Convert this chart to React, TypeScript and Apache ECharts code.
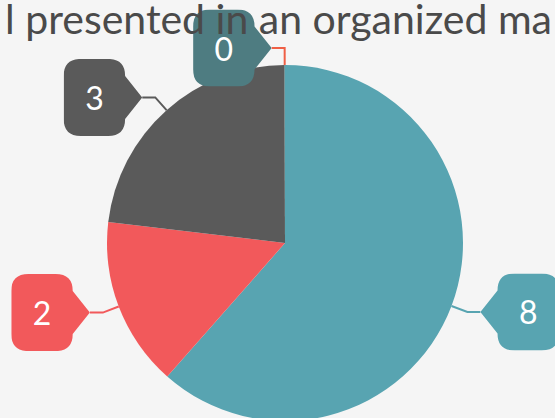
import React, { useEffect, useRef } from "react";
import * as echarts from "echarts";

const titleText = "l presented in an organized ma";
const categories = ["A", "B", "C", "D"];
const values = [8, 2, 3, 0];
const sliceColors = ["#58A4B1", "#F2595B", "#5A5A5A", "#4E7C81"];
const lineColors = ["#58A4B1", "#F2595B", "#5A5A5A", "#EF5F45"];

function bubble(color: string, arrowRight: boolean): string {
  const d = arrowRight
    ? "M17,0 H44 Q61,0 61,17 L78,38.5 L61,60 Q61,77 44,77 H17 Q0,77 0,60 V17 Q0,0 17,0 Z"
    : "M34,0 H61 Q78,0 78,17 V60 Q78,77 61,77 H34 Q17,77 17,60 L0,38.5 L17,17 Q17,0 34,0 Z";
  const svg = `<svg xmlns="http://www.w3.org/2000/svg" width="78" height="77" viewBox="0 0 78 77" preserveAspectRatio="none"><path d="${d}" fill="${color}"/></svg>`;
  return "data:image/svg+xml;charset=utf-8," + encodeURIComponent(svg);
}

export default function App() {
  const ref = useRef<HTMLDivElement>(null);
  useEffect(() => {
    document.body.style.margin = "0";
    const chart = echarts.init(ref.current!, null, { renderer: "svg" });
    const data = values.map((v, i) => {
      const arrowRight = i !== 0;
      return {
        name: categories[i],
        value: v,
        itemStyle: { color: sliceColors[i] },
        labelLine: { lineStyle: { color: lineColors[i], width: 2 } },
        label: {
          backgroundColor: { image: bubble(sliceColors[i], arrowRight) },
          padding: arrowRight ? [22.5, 38.5, 22.5, 21.5] : [22.5, 21.5, 22.5, 38.5],
        },
      };
    });
    chart.setOption({
      animation: false,
      backgroundColor: "#F5F5F5",
      title: {
        text: titleText,
        left: 0,
        top: -7,
        textStyle: {
          fontFamily: "Lato",
          fontSize: 41,
          fontWeight: "normal",
          color: "#4A4A4A",
        },
      },
      series: [
        {
          type: "pie",
          center: [285, 243],
          radius: 178,
          startAngle: 90,
          clockwise: true,
          minAngle: 0.2,
          avoidLabelOverlap: false,
          labelLayout: { hideOverlap: false },
          data,
          label: {
            show: true,
            formatter: "{c}",
            color: "#FFFFFF",
            fontFamily: "Lato",
            fontSize: 32,
            lineHeight: 32,
            distanceToLabelLine: 0,
          },
          labelLine: {
            show: true,
            length: 17,
            length2: 13,
            smooth: false,
          },
          emphasis: { disabled: true },
        },
      ],
    });
    return () => chart.dispose();
  }, []);
  return <div ref={ref} style={{ width: 555, height: 418, position: "absolute", left: 0, top: 0 }} />;
}
